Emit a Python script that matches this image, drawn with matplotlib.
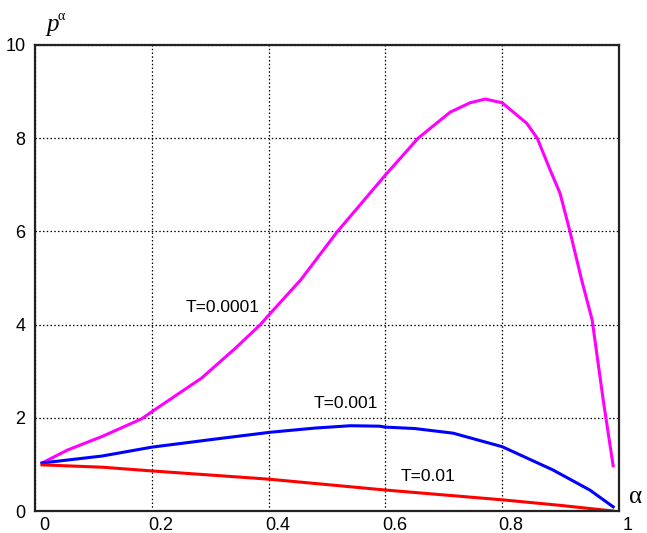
import matplotlib
matplotlib.use('Agg')
import matplotlib.pyplot as plt
import matplotlib.transforms as mtransforms

plt.rcParams['font.family'] = ['Liberation Sans', 'DejaVu Sans']

# T=0.0001
alpha1 = [0.012, 0.056, 0.115, 0.183, 0.2, 0.285, 0.342, 0.386, 0.4, 0.455, 0.518, 0.6,
          0.656, 0.711, 0.745, 0.771, 0.8, 0.819, 0.842, 0.86, 0.882, 0.899, 0.916,
          0.936, 0.954, 0.973, 0.99]
p1 = [1.03, 1.31, 1.6, 1.98, 2.13, 2.85, 3.48, 4.0, 4.2, 4.96, 6.0, 7.21,
      8.0, 8.56, 8.76, 8.84, 8.76, 8.56, 8.32, 8.0, 7.32, 6.82, 6.0,
      4.96, 4.1, 2.38, 0.97]

# T=0.001
alpha2 = [0.012, 0.115, 0.2, 0.3, 0.403, 0.48, 0.54, 0.59, 0.6, 0.65, 0.716, 0.8,
          0.887, 0.95, 0.99]
p2 = [1.03, 1.18, 1.37, 1.53, 1.69, 1.78, 1.83, 1.82, 1.80, 1.77, 1.67, 1.38,
      0.88, 0.45, 0.09]

# T=0.01
alpha3 = [0.012, 0.115, 0.2, 0.37, 0.403, 0.6, 0.8, 0.9, 0.99]
p3 = [0.99, 0.94, 0.86, 0.71, 0.68, 0.45, 0.24, 0.12, 0.0]

xticks = [0, 0.2, 0.4, 0.6, 0.8, 1]
xticklabels = ['0', '0.2', '0.4', '0.6', '0.8', '1']
yticks = [0, 2, 4, 6, 8, 10]

fig = plt.figure(figsize=(6.47, 5.33), dpi=100)
ax = fig.add_axes([35 / 647, 22 / 533, 584 / 647, 466 / 533])

ax.plot(alpha1, p1, color='#ff00ff', lw=2.2)
ax.plot(alpha2, p2, color='#0000ff', lw=2.2)
ax.plot(alpha3, p3, color='#ff0000', lw=2.2)

ax.set_xlim(0, 1)
ax.set_ylim(0, 10)
ax.set_xticks(xticks)
ax.set_xticklabels(xticklabels)
ax.set_yticks(yticks)
ax.tick_params(length=0, labelsize=13, colors='black')
ax.tick_params(axis='x', pad=4)
ax.tick_params(axis='y', pad=7)
# x labels sit a bit right of the grid lines
offset = mtransforms.ScaledTranslation(9 / 100, 0, fig.dpi_scale_trans)
for lab in ax.get_xticklabels():
    lab.set_transform(lab.get_transform() + offset)

ax.grid(True, color='black', linestyle=(0, (1.2, 1.8)), lw=0.9)
for s in ax.spines.values():
    s.set_linewidth(1.6)
    s.set_color('#222222')

ax.text(0.258, 4.36, 'T=0.0001', fontsize=12.5, va='center', ha='left')
ax.text(0.477, 2.30, 'T=0.001', fontsize=12.5, va='center', ha='left')
ax.text(0.626, 0.75, 'T=0.01', fontsize=12.5, va='center', ha='left')

fig.text(46 / 647, 1 - 31 / 533, 'p', fontsize=18, style='italic',
         family='Liberation Serif', ha='left', va='baseline')
fig.text(58 / 647, 1 - 20 / 533, 'α', fontsize=10,
         family='Liberation Serif', ha='left', va='baseline')
fig.text(629 / 647, 1 - 503 / 533, 'α', fontsize=18,
         family='Liberation Serif', ha='left', va='baseline')

fig.savefig('out.png', dpi=100)
